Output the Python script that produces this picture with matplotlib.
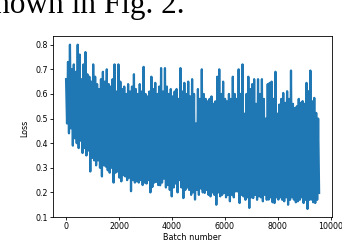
import numpy as np
import matplotlib
matplotlib.use("Agg")
import matplotlib.pyplot as plt

# peaks and troughs of the loss
loss_high = [0.66, 0.73, 0.80, 0.70, 0.72, 0.69, 0.80, 0.76, 0.66, 0.72,
             0.77, 0.68, 0.67, 0.65, 0.72, 0.67, 0.64, 0.62, 0.66, 0.69,
             0.65, 0.70, 0.64, 0.63, 0.66, 0.72, 0.61, 0.72, 0.65, 0.62,
             0.63, 0.60, 0.64, 0.61, 0.63, 0.68, 0.62, 0.60, 0.64, 0.61,
             0.71, 0.60, 0.59, 0.61, 0.67, 0.62, 0.645, 0.60, 0.63, 0.705,
             0.61, 0.705, 0.63, 0.60, 0.62, 0.59, 0.61, 0.62, 0.58, 0.705,
             0.61, 0.645, 0.60, 0.65, 0.59, 0.66, 0.60, 0.48, 0.62, 0.58,
             0.70, 0.60, 0.58, 0.57, 0.58, 0.59, 0.56, 0.57, 0.67, 0.70,
             0.60, 0.65, 0.58, 0.57, 0.60, 0.58, 0.67, 0.60, 0.58, 0.70,
             0.60, 0.72, 0.52, 0.60, 0.67, 0.62, 0.64, 0.66, 0.56, 0.66,
             0.60, 0.66, 0.58, 0.50, 0.64, 0.645, 0.65, 0.58, 0.69, 0.52,
             0.557, 0.58, 0.604, 0.564, 0.611, 0.58, 0.695, 0.56, 0.543, 0.55,
             0.58, 0.564, 0.571, 0.56, 0.645, 0.611, 0.695, 0.57, 0.584, 0.523,
             0.50]
loss_low = [0.48, 0.44, 0.46, 0.39, 0.42, 0.40, 0.38, 0.41, 0.36, 0.38,
            0.35, 0.37, 0.285, 0.34, 0.33, 0.31, 0.33, 0.30, 0.265, 0.31,
            0.305, 0.29, 0.28, 0.30, 0.24, 0.28, 0.285, 0.26, 0.245, 0.27,
            0.265, 0.25, 0.26, 0.205, 0.25, 0.24, 0.245, 0.24, 0.25, 0.23,
            0.24, 0.236, 0.25, 0.20, 0.222, 0.24, 0.243, 0.23, 0.229, 0.24,
            0.256, 0.22, 0.23, 0.21, 0.184, 0.22, 0.236, 0.20, 0.25, 0.22,
            0.177, 0.21, 0.22, 0.21, 0.19, 0.20, 0.171, 0.21, 0.19, 0.216,
            0.20, 0.198, 0.21, 0.19, 0.184, 0.20, 0.19, 0.15, 0.20, 0.184,
            0.19, 0.198, 0.18, 0.19, 0.164, 0.19, 0.18, 0.204, 0.204, 0.157,
            0.19, 0.184, 0.17, 0.18, 0.137, 0.18, 0.177, 0.19, 0.17, 0.184,
            0.18, 0.164, 0.19, 0.17, 0.171, 0.18, 0.16, 0.157, 0.18, 0.171,
            0.18, 0.17, 0.164, 0.18, 0.15, 0.17, 0.18, 0.171, 0.16, 0.164,
            0.17, 0.18, 0.157, 0.17, 0.133, 0.17, 0.171, 0.16, 0.157, 0.17,
            0.198]
last_batch = 9560

loss = np.empty(2 * len(loss_high))
loss[0::2] = loss_high
loss[1::2] = loss_low
batch = np.linspace(0, last_batch, len(loss))

fig = plt.figure(figsize=(3.42, 2.42), dpi=100)
ax = fig.add_axes([0.156, 0.103, 0.815, 0.748])
ax.plot(batch, loss, color="#1f77b4", lw=1.6)
ax.set_xlim(-480, 10050)
ax.set_ylim(0.1, 0.835)
ax.set_xticks([0, 2000, 4000, 6000, 8000, 10000])
ax.set_yticks([0.1, 0.2, 0.3, 0.4, 0.5, 0.6, 0.7, 0.8])
ax.tick_params(labelsize=5.7, length=2.2, width=0.6, pad=1.5)
for s in ax.spines.values():
    s.set_linewidth(0.6)

fig.text(25 / 342, 1 - 128.5 / 242, "Loss", rotation=90, ha="center", va="center", fontsize=5.7)
fig.text(192.5 / 342, 2 / 242, "Batch number", ha="center", va="baseline", fontsize=5.9)
# caption text of the paper cut off above the figure
fig.text(184 / 342, 1 - 12.7 / 242, "shown in Fig. 2.", ha="right", va="baseline",
         fontsize=22.5, family="Liberation Serif")

fig.savefig("out.png", dpi=100)
